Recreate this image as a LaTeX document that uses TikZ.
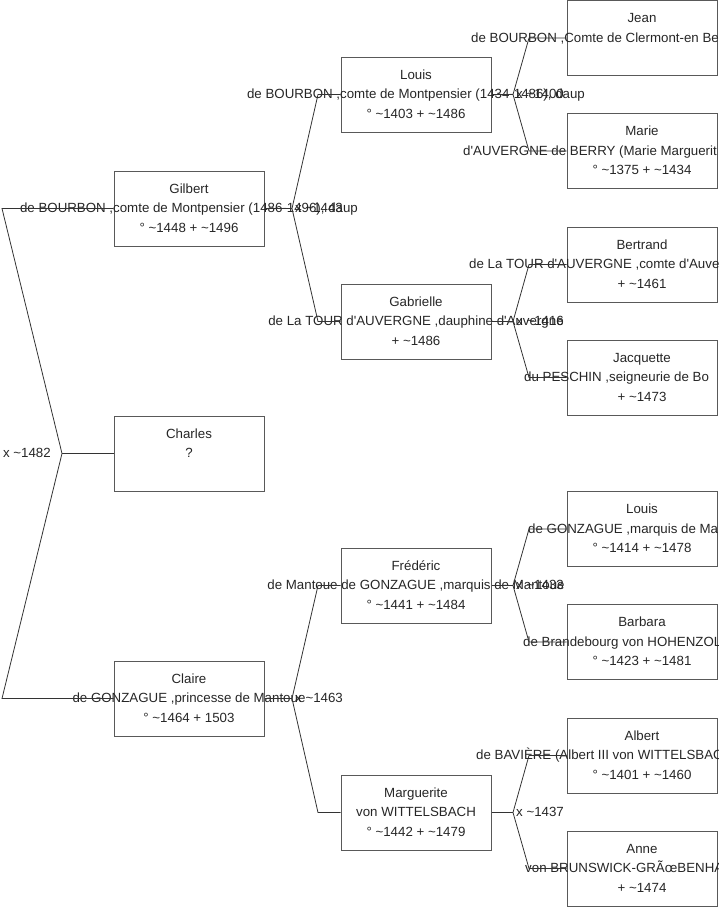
\documentclass[tikz,border=0pt]{standalone}
\usepackage{fontspec}
\setmainfont{Liberation Sans}
\newcommand{\apx}{\textasciitilde}
\newcommand{\ap}{\textquotesingle}

\begin{document}
\begin{tikzpicture}[x=1pt, y=-1pt, pbox/.style={rectangle, draw=black!65, line width=1pt, minimum width=150pt, minimum height=75pt, inner sep=0pt}, ptext/.style={anchor=base, inner sep=0pt, font=\fontsize{13.3}{16}\selectfont, text=black!85}, pcut/.style={ptext, anchor=base west}, link/.style={draw=black!80, line width=0.8pt}]

    \clip (0,0) rectangle (719,908);

    %Boxes
    \node[pbox](gilbert) at (189,208.5){};
    \node[pbox](charles) at (189,453.5){};
    \node[pbox](claire) at (189,698.5){};
    \node[pbox](louis) at (416,94.5){};
    \node[pbox](gabrielle) at (416,321.5){};
    \node[pbox](frederic) at (416,585.5){};
    \node[pbox](marguerite) at (416,812.5){};
    \node[pbox](jean) at (642,38){};
    \node[pbox](marie) at (642,151){};
    \node[pbox](bertrand) at (642,264.5){};
    \node[pbox](jacquette) at (642,377.5){};
    \node[pbox](louisg) at (642,529){};
    \node[pbox](barbara) at (642,642){};
    \node[pbox](albert) at (642,755.5){};
    \node[pbox](anne) at (642,868.5){};

    %Texts
    \node[ptext](gilbert1) at ([yshift=15.5pt]gilbert.center){Gilbert};
    \node[ptext](gilbert2) at ([yshift=-4pt]gilbert.center){de BOURBON ,comte de Montpensier (1486-1496), daup};
    \node[ptext](gilbert3) at ([yshift=-23.5pt]gilbert.center){° \apx1448 + \apx1496};
    \node[ptext](charles1) at ([yshift=15.5pt]charles.center){Charles};
    \node[ptext](charles2) at ([yshift=-4pt]charles.center){?};
    \node[ptext](claire1) at ([yshift=15.5pt]claire.center){Claire};
    \node[ptext](claire2) at ([yshift=-4pt]claire.center){de GONZAGUE ,princesse de Mantoue};
    \node[ptext](claire3) at ([yshift=-23.5pt]claire.center){° \apx1464 + 1503};
    \node[ptext](louis1) at ([yshift=15.5pt]louis.center){Louis};
    \node[ptext](louis2) at ([yshift=-4pt]louis.center){de BOURBON ,comte de Montpensier (1434-1486), daup};
    \node[ptext](louis3) at ([yshift=-23.5pt]louis.center){° \apx1403 + \apx1486};
    \node[ptext](gabrielle1) at ([yshift=15.5pt]gabrielle.center){Gabrielle};
    \node[ptext](gabrielle2) at ([yshift=-4pt]gabrielle.center){de La TOUR d\ap AUVERGNE ,dauphine d\ap Auvergne};
    \node[ptext](gabrielle3) at ([yshift=-23.5pt]gabrielle.center){+ \apx1486};
    \node[ptext](frederic1) at ([yshift=15.5pt]frederic.center){Frédéric};
    \node[ptext](frederic2) at ([yshift=-4pt]frederic.center){de Mantoue de GONZAGUE ,marquis de Mantoue};
    \node[ptext](frederic3) at ([yshift=-23.5pt]frederic.center){° \apx1441 + \apx1484};
    \node[ptext](marguerite1) at ([yshift=15.5pt]marguerite.center){Marguerite};
    \node[ptext](marguerite2) at ([yshift=-4pt]marguerite.center){von WITTELSBACH};
    \node[ptext](marguerite3) at ([yshift=-23.5pt]marguerite.center){° \apx1442 + \apx1479};
    \node[ptext](jean1) at ([yshift=15.5pt]jean.center){Jean};
    \node[pcut](jean2) at (471,42){de BOURBON ,Comte de Clermont-en Be};
    \node[ptext](marie1) at ([yshift=15.5pt]marie.center){Marie};
    \node[pcut](marie2) at (463,155){d\ap AUVERGNE de BERRY (Marie Marguerit};
    \node[ptext](marie3) at ([yshift=-23.5pt]marie.center){° \apx1375 + \apx1434};
    \node[ptext](bertrand1) at ([yshift=15.5pt]bertrand.center){Bertrand};
    \node[pcut](bertrand2) at (469,268.5){de La TOUR d\ap AUVERGNE ,comte d\ap Auve};
    \node[ptext](bertrand3) at ([yshift=-23.5pt]bertrand.center){+ \apx1461};
    \node[ptext](jacquette1) at ([yshift=15.5pt]jacquette.center){Jacquette};
    \node[pcut](jacquette2) at (524,381.5){du PESCHIN ,seigneurie de Bo};
    \node[ptext](jacquette3) at ([yshift=-23.5pt]jacquette.center){+ \apx1473};
    \node[ptext](louisg1) at ([yshift=15.5pt]louisg.center){Louis};
    \node[pcut](louisg2) at (528,533){de GONZAGUE ,marquis de Ma};
    \node[ptext](louisg3) at ([yshift=-23.5pt]louisg.center){° \apx1414 + \apx1478};
    \node[ptext](barbara1) at ([yshift=15.5pt]barbara.center){Barbara};
    \node[pcut](barbara2) at (523,646){de Brandebourg von HOHENZOL};
    \node[ptext](barbara3) at ([yshift=-23.5pt]barbara.center){° \apx1423 + \apx1481};
    \node[ptext](albert1) at ([yshift=15.5pt]albert.center){Albert};
    \node[pcut](albert2) at (476,759.5){de BAVIÈRE (Albert III von WITTELSBAC};
    \node[ptext](albert3) at ([yshift=-23.5pt]albert.center){° \apx1401 + \apx1460};
    \node[ptext](anne1) at ([yshift=15.5pt]anne.center){Anne};
    \node[pcut](anne2) at (525,872.5){von BRUNSWICK-GRÃœBENHA};
    \node[ptext](anne3) at ([yshift=-23.5pt]anne.center){+ \apx1474};

    %Marriages
    \node[ptext, anchor=base east](m0) at (51,457.5){x \apx1482};
    \node[pcut](m1) at (295,212.5){x \apx1443};
    \node[pcut](m2) at (295,702.5){x \apx1463};
    \node[pcut](m3) at (516,98.5){x \apx1400};
    \node[pcut](m4) at (516,325.5){x \apx1416};
    \node[pcut](m5) at (516,589.5){x \apx1433};
    \node[pcut](m6) at (516,816.5){x \apx1437};

    %Forks
    \coordinate (f0) at (62,453.5);
    \coordinate (f0up) at (2,208.5);
    \coordinate (f0dn) at (2,698.5);
    \coordinate (f1) at (292,208.5);
    \coordinate (f1up) at (318,94.5);
    \coordinate (f1dn) at (318,321.5);
    \coordinate (f2) at (292,698.5);
    \coordinate (f2up) at (318,585.5);
    \coordinate (f2dn) at (318,812.5);
    \coordinate (f3) at (513,94.5);
    \coordinate (f3up) at (529,38);
    \coordinate (f3dn) at (529,151);
    \coordinate (f4) at (513,321.5);
    \coordinate (f4up) at (529,264.5);
    \coordinate (f4dn) at (529,377.5);
    \coordinate (f5) at (513,585.5);
    \coordinate (f5up) at (529,529);
    \coordinate (f5dn) at (529,642);
    \coordinate (f6) at (513,812.5);
    \coordinate (f6up) at (529,755.5);
    \coordinate (f6dn) at (529,868.5);

    %Lines
    \draw[link] (charles.west) -- (f0);
    \draw[link] (gilbert.west) -- (f0up) -- (f0) -- (f0dn) -- (claire.west);
    \draw[link] (gilbert.east) -- (f1);
    \draw[link] (louis.west) -- (f1up) -- (f1) -- (f1dn) -- (gabrielle.west);
    \draw[link] (claire.east) -- (f2);
    \draw[link] (frederic.west) -- (f2up) -- (f2) -- (f2dn) -- (marguerite.west);
    \draw[link] (louis.east) -- (f3);
    \draw[link] (jean.west) -- (f3up) -- (f3) -- (f3dn) -- (marie.west);
    \draw[link] (gabrielle.east) -- (f4);
    \draw[link] (bertrand.west) -- (f4up) -- (f4) -- (f4dn) -- (jacquette.west);
    \draw[link] (frederic.east) -- (f5);
    \draw[link] (louisg.west) -- (f5up) -- (f5) -- (f5dn) -- (barbara.west);
    \draw[link] (marguerite.east) -- (f6);
    \draw[link] (albert.west) -- (f6up) -- (f6) -- (f6dn) -- (anne.west);

\end{tikzpicture}
\end{document}
